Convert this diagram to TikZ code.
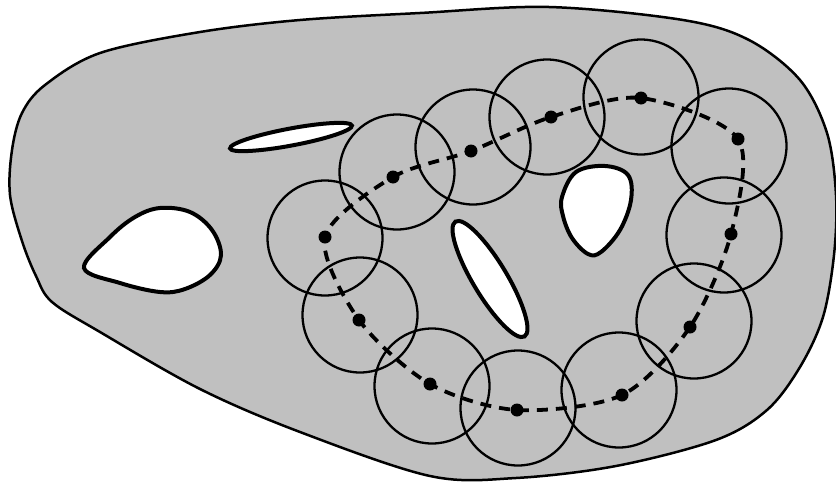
\documentclass[tikz,border=0pt]{standalone}
\definecolor{regiongray}{RGB}{192,192,192}
\begin{document}
\begin{tikzpicture}[x=1pt,y=-1pt,
  outline/.style={draw=black,fill=regiongray,line width=2.5pt,line join=round},
  hole/.style={draw=black,fill=white,line width=4pt},
  ring/.style={draw=black,line width=2.3pt},
  route/.style={draw=black,line width=3.8pt,dash pattern=on 11pt off 8pt},
  dotmark/.style={fill=black}]
\useasboundingbox (0,0) rectangle (836,482);
% outer region
\draw[outline] plot[smooth cycle,tension=0.55] coordinates {
 (420,13) (549,7) (683,20) (749,40) (800,80) (827,133) (836,195) (834,255)
 (823,317) (800,367) (767,410) (716,440) (616,466) (516,478) (430,476)
 (300,432) (200,389) (100,332) (52,302) (36,276) (22,241) (10,195)
 (12,150) (22,113) (45,85) (100,53) (200,32) (300,20)};
% holes
\draw[hole] plot[smooth cycle,tension=0.6] coordinates {
 (84,268) (110,237) (135,217) (160,208) (190,212) (212,230) (221,255)
 (210,275) (185,289) (160,292) (120,283)};
\draw[hole,rotate around={10.6:(291,137)}] (291,137) ellipse [x radius=62, y radius=8.5];
\draw[hole,rotate around={-59:(490,279)}] (490,279) ellipse [x radius=67, y radius=17];
\draw[hole] plot[smooth cycle,tension=0.6] coordinates {
 (562,197) (576,172) (605,166) (628,175) (631,200) (620,230) (601,252)
 (588,254) (572,238) (563,216)};
% centres
\coordinate (d1) at (325,237);
\coordinate (d2) at (393,177);
\coordinate (d3) at (471,151);
\coordinate (d4) at (551,117);
\coordinate (d5) at (641,98);
\coordinate (d6) at (738,139);
\coordinate (d7) at (731,234);
\coordinate (d8) at (690,327);
\coordinate (d9) at (622,395);
\coordinate (d10) at (517,410);
\coordinate (d11) at (430,384);
\coordinate (d12) at (359,320);
% dashed route
\draw[route] plot[smooth cycle,tension=0.5] coordinates {
 (d1) (d2) (d3) (d4) (d5) (d6) (d7) (d8) (d9) (d10) (d11) (d12)};
% circles
\foreach \c in {(325,238),(397,172),(473,147),(547,117),(641,97),(729,146),
  (724,235),(694,321),(619,390),(518,408),(432,386),(360,315)}
  \draw[ring] \c circle [radius=57.5];
% dots
\foreach \n in {1,...,12}
  \fill[dotmark] (d\n) circle [radius=6.5];
\end{tikzpicture}
\end{document}
